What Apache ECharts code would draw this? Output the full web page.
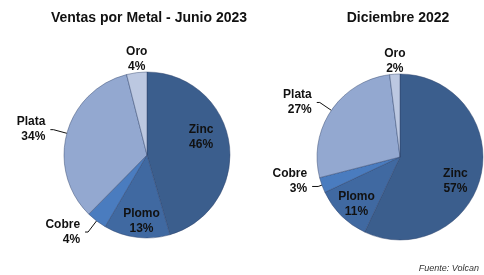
<!DOCTYPE html>
<html>
<head>
<meta charset="utf-8">
<script src="https://cdn.jsdelivr.net/npm/echarts@6/dist/echarts.min.js"></script>
<style>
  html, body { margin: 0; padding: 0; background: #fff; }
  #chart-container { width: 484px; height: 275px; }
</style>
</head>
<body>
<div id="chart-container"></div>
<script>
var metals = ['Zinc', 'Plomo', 'Cobre', 'Plata', 'Oro'];
var junio2023 = [46, 13, 4, 34, 4];
var diciembre2022 = [57, 11, 3, 27, 2];
var titles = ['Ventas por Metal - Junio 2023', 'Diciembre 2022'];
var colors = ['#3b5e8d', '#4069a1', '#4a7cbf', '#93a8d0', '#bcc8e1'];

// nudges for the labels (inside ones mostly)
var labelShift = [
    { Zinc: [10, -12], Plomo: [0, 22] },
    { Zinc: [12, 14], Plomo: [-12, 16], Cobre: [0, -5] }
];

var dom = document.getElementById('chart-container');
var myChart = echarts.init(dom, null, { renderer: 'canvas' });

function buildData(values, idx) {
    return metals.map(function (name, i) {
        var item = { name: name, value: values[i], itemStyle: { color: colors[i] } };
        if (name === 'Zinc' || name === 'Plomo') {
            item.label = { position: 'inside' };
        }
        if (name === 'Oro') {
            item.labelLine = { show: false };
        }
        if (idx === 1 && name === 'Cobre') {
            item.labelLine = { length: 4, length2: 6 };
        }
        return item;
    });
}

function makeSeries(values, center, idx) {
    return {
        type: 'pie',
        radius: 83,
        center: center,
        startAngle: 90,
        clockwise: true,
        animation: false,
        silent: true,
        data: buildData(values, idx),
        itemStyle: { borderColor: 'rgba(45,65,105,0.75)', borderWidth: 0.6 },
        label: {
            show: true,
            formatter: '{b}\n{c}%',
            fontFamily: 'Liberation Sans',
            fontWeight: 'bold',
            fontSize: 12,
            lineHeight: 15,
            color: '#111'
        },
        labelLine: {
            show: true,
            length: 14,
            length2: 3,
            lineStyle: { color: '#111', width: 1 }
        },
        labelLayout: function (params) {
            var name = metals[params.dataIndex];
            var shift = labelShift[idx][name];
            if (shift) {
                return { dx: shift[0], dy: shift[1] };
            }
            if (name === 'Oro') {
                return {
                    x: params.rect.x + params.rect.width / 2,
                    y: params.rect.y - 13,
                    align: 'center',
                    verticalAlign: 'middle'
                };
            }
            return {};
        }
    };
}

var option = {
    backgroundColor: '#fff',
    title: [
        {
            text: titles[0], left: 149, top: 11, textAlign: 'center', padding: 0,
            textStyle: { fontFamily: 'Liberation Sans', fontWeight: 'bold', fontSize: 14, color: '#111' }
        },
        {
            text: titles[1], left: 398, top: 11, textAlign: 'center', padding: 0,
            textStyle: { fontFamily: 'Liberation Sans', fontWeight: 'bold', fontSize: 14, color: '#111' }
        },
        {
            text: 'Fuente: Volcan', right: 5, bottom: 2, padding: 0,
            textStyle: { fontFamily: 'Liberation Sans', fontStyle: 'italic', fontWeight: 'normal', fontSize: 9, color: '#333' }
        }
    ],
    series: [
        makeSeries(junio2023, [147, 155], 0),
        makeSeries(diciembre2022, [400, 157], 1)
    ]
};

myChart.setOption(option);
window.addEventListener('resize', myChart.resize);
</script>
</body>
</html>
